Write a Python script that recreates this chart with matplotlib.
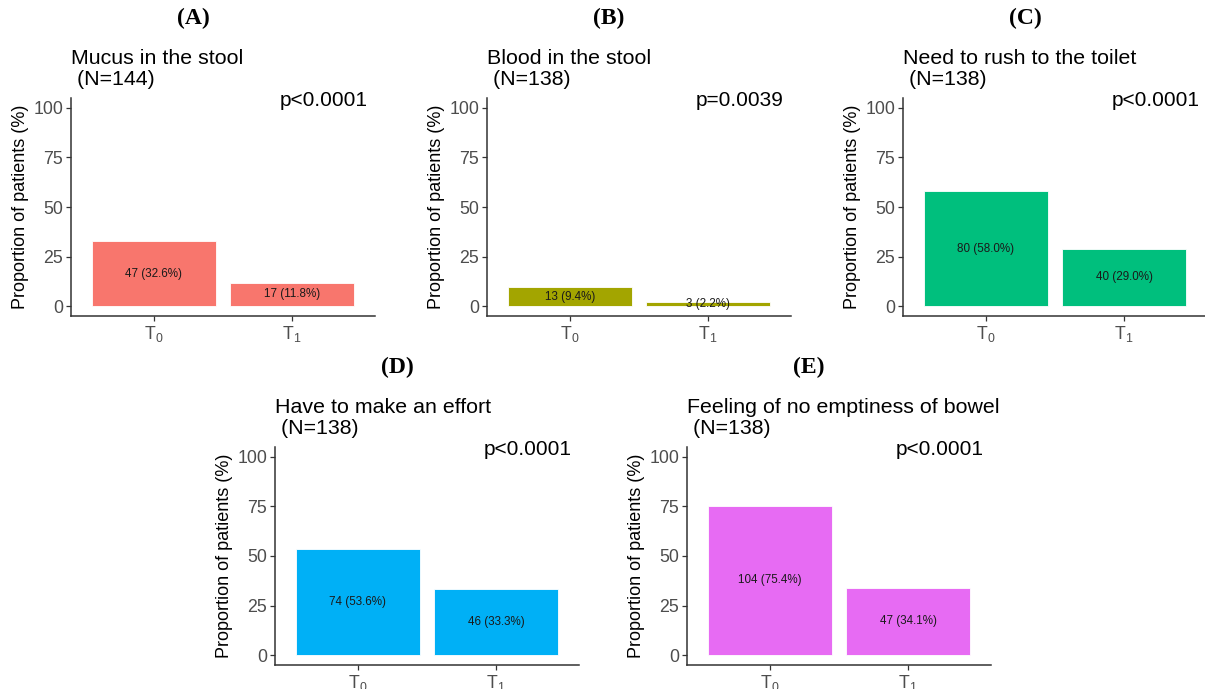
import numpy as np
import matplotlib
matplotlib.use("Agg")
import matplotlib.pyplot as plt

plt.rcParams['font.family'] = ['Liberation Sans', 'DejaVu Sans']
plt.rcParams['mathtext.fontset'] = 'custom'
plt.rcParams['mathtext.rm'] = 'Liberation Sans'
plt.rcParams['mathtext.it'] = 'Liberation Sans'

# data
panel_tags = ["(A)", "(B)", "(C)", "(D)", "(E)"]
titles = ["Mucus in the stool", "Blood in the stool", "Need to rush to the toilet",
          "Have to make an effort", "Feeling of no emptiness of bowel"]
n_total = [144, 138, 138, 138, 138]
p_values = ["p<0.0001", "p=0.0039", "p<0.0001", "p<0.0001", "p<0.0001"]
times = [r"$\mathrm{T}_0$", r"$\mathrm{T}_1$"]
counts = [[47, 17], [13, 3], [80, 40], [74, 46], [104, 47]]
percents = [[32.6, 11.8], [9.4, 2.2], [58.0, 29.0], [53.6, 33.3], [75.4, 34.1]]
colors = ["#F8766D", "#A3A500", "#00BF7D", "#00B0F6", "#E76BF3"]

W, H = 1205, 689
fig = plt.figure(figsize=(W / 100, H / 100), dpi=100)

# axes boxes in pixels: left, right, top, bottom
boxes = [(71, 375, 98, 316), (487, 791, 98, 316), (903, 1207, 98, 316),
         (275, 579, 447, 665), (687, 991, 447, 665)]

for k in range(5):
    l, r, t, b = boxes[k]
    ax = fig.add_axes([l / W, 1 - b / H, (r - l) / W, (b - t) / H])
    x = np.arange(1, 3)
    ax.bar(x, percents[k], width=0.9, color=colors[k], edgecolor="white", linewidth=0.6)
    for i in range(2):
        ax.text(x[i], percents[k][i] / 2, f"{counts[k][i]} ({percents[k][i]:.1f}%)",
                ha="center", va="center", fontsize=8.4, color="#1a1a1a")
    ax.set_xlim(0.4, 2.6)
    ax.set_ylim(-5, 105)
    ax.set_yticks([0, 25, 50, 75, 100])
    ax.set_xticks(x)
    ax.set_xticklabels(times)
    for s in ["top", "right"]:
        ax.spines[s].set_visible(False)
    for s in ["left", "bottom"]:
        ax.spines[s].set_color("#333333")
        ax.spines[s].set_linewidth(1.1)
    ax.tick_params(axis="both", colors="#333333", length=3.5, width=0.9,
                   labelsize=12.8, labelcolor="#4D4D4D", pad=2)
    ax.set_ylabel("Proportion of patients (%)", fontsize=13, color="black", labelpad=3)
    ax.annotate(f"{titles[k]}\n (N={n_total[k]})", xy=(0, 1), xycoords="axes fraction",
                xytext=(0, 6.5), textcoords="offset points", ha="left", va="bottom",
                fontsize=15.4, linespacing=1.1)
    ax.annotate(p_values[k], xy=(0.977, 1), xycoords="axes fraction",
                xytext=(0, 5), textcoords="offset points", ha="right", va="top",
                fontsize=15)
    ax.annotate(panel_tags[k], xy=(122 / (r - l), 1), xycoords="axes fraction",
                xytext=(0, 57), textcoords="offset points", ha="center", va="center",
                fontsize=17, fontweight="bold", family="Liberation Serif")

fig.savefig("out.png", dpi=100)
